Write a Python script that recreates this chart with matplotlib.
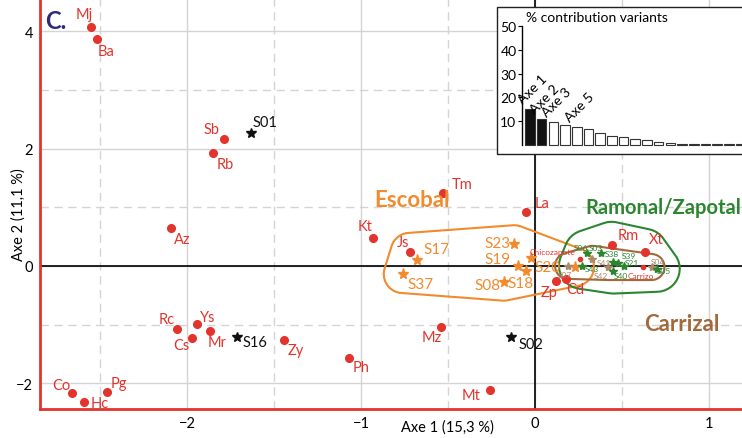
import numpy as np
import matplotlib
matplotlib.use("Agg")
import matplotlib.pyplot as plt
from matplotlib.patches import Polygon, Rectangle

plt.rcParams['font.family'] = ['Lato', 'DejaVu Sans']

# variants (red dots)
var_names = ['Mj', 'Ba', 'Sb', 'Rb', 'Az', 'Kt', 'Js', 'Tm', 'La', 'Rc', 'Ys', 'Cs',
             'Mr', 'Zy', 'Ph', 'Mz', 'Mt', 'Co', 'Hc', 'Pg', 'Rm', 'Xt', 'Zp', 'Cd']
var_x = [-2.55, -2.52, -1.79, -1.85, -2.09, -0.93, -0.72, -0.53, -0.05, -2.06, -1.94, -1.97,
         -1.87, -1.44, -1.07, -0.54, -0.26, -2.66, -2.59, -2.46, 0.44, 0.63, 0.12, 0.18]
var_y = [4.07, 3.87, 2.16, 1.93, 0.65, 0.48, 0.24, 1.24, 0.92, -1.07, -0.99, -1.23,
         -1.11, -1.26, -1.57, -1.04, -2.11, -2.16, -2.32, -2.15, 0.36, 0.24, -0.26, -0.22]

# small red labels inside the right cluster
place_names = ['Chicozapote', 'Carrizo']
place_x = [0.26, 0.62]
place_y = [0.12, -0.02]

# sites not in a group (black stars)
solo_names = ['S01', 'S16', 'S02']
solo_x = [-1.63, -1.71, -0.14]
solo_y = [2.27, -1.21, -1.21]

# Escobal sites
esc_names = ['S17', 'S37', 'S23', 'S19', 'S20', 'S18', 'S08', '']
esc_x = [-0.68, -0.76, -0.12, -0.10, -0.02, -0.05, -0.18, 0.23]
esc_y = [0.10, -0.14, 0.37, 0.00, 0.14, -0.09, -0.27, -0.02]

# Ramonal/Zapotal sites
ram_names = ['S06', 'S03', 'S38', 'S39', 'S21', 'S40', 'S43', 'S05']
ram_x = [0.30, 0.38, 0.45, 0.48, 0.51, 0.45, 0.27, 0.70]
ram_y = [0.22, 0.22, 0.06, 0.05, -0.01, -0.08, 0.00, -0.05]

# Carrizal sites
car_names = ['S41', 'S42', 'S04', 'S07']
car_x = [0.33, 0.42, 0.67, 0.19]
car_y = [0.12, -0.02, -0.02, 0.00]

# % contribution of each axis (inset)
contrib = [15.3, 11.1, 9.7, 8.6, 7.4, 6.6, 4.9, 3.6, 3.4, 2.5, 2.1, 1.4, 1.0,
           0.3, 0.3, 0.3, 0.3, 0.3, 0.3]
contrib_labels = {0: 'Axe 1', 1: 'Axe 2', 2: 'Axe 3', 4: 'Axe 5'}

RED = '#e2332c'
ORANGE = '#f28a2e'
GREEN = '#2c862f'
TAN = '#a98a6a'
BROWN = '#a26a3a'

# label offsets in pixels (dx, dy)
offs = {
    'Mj': (-7, 13), 'Ba': (10, -12), 'Sb': (-12, 10), 'Rb': (12, -11), 'Az': (11, -11),
    'Kt': (-8, 12), 'Js': (-7, 10), 'Tm': (19, 9), 'La': (16, 9), 'Rc': (-10, 10),
    'Ys': (10, 7), 'Cs': (-11, -7), 'Mr': (7, -11), 'Zy': (11, -10), 'Ph': (12, -9),
    'Mz': (-9, -10), 'Mt': (-19, -5), 'Co': (-11, 8), 'Hc': (15, -1), 'Pg': (12, 9),
    'Rm': (17, 10), 'Xt': (12, 13), 'Zp': (-7, -11), 'Cd': (9, -10),
    'Chicozapote': (-28, 7), 'Carrizo': (-2, -8),
    'S01': (14, 11), 'S16': (18, -5), 'S02': (20, -7),
    'S17': (20, 11), 'S37': (18, -10), 'S23': (-17, 1), 'S19': (-20, 7), 'S20': (16, -9),
    'S18': (-6, -12), 'S08': (-16, -3), '': (0, 0),
    'S06': (-6, 5), 'S03': (-5, 5), 'S38': (-1, 9), 'S39': (10, 7), 'S21': (8, 4),
    'S40': (8, -5), 'S43': (10, -3), 'S05': (7, -2),
    'S41': (11, -4), 'S42': (-7, -8), 'S04': (6, 6), 'S07': (-3, -9),
}


def convex_hull(p):
    p = sorted(map(tuple, p))

    def cross(o, a, b):
        return (a[0] - o[0]) * (b[1] - o[1]) - (a[1] - o[1]) * (b[0] - o[0])

    lower, upper = [], []
    for q in p:
        while len(lower) >= 2 and cross(lower[-2], lower[-1], q) <= 0:
            lower.pop()
        lower.append(q)
    for q in reversed(p):
        while len(upper) >= 2 and cross(upper[-2], upper[-1], q) <= 0:
            upper.pop()
        upper.append(q)
    return np.array(lower[:-1] + upper[:-1])


def rounded_hull(ax, xs, ys, pad):
    # hull of the points, padded by a circle of pad pixels
    pts = ax.transData.transform(np.column_stack([xs, ys]))
    t = np.linspace(0, 2 * np.pi, 36, endpoint=False)
    ring = np.column_stack([np.cos(t), np.sin(t)]) * pad
    cloud = (pts[:, None, :] + ring[None, :, :]).reshape(-1, 2)
    return ax.transData.inverted().transform(convex_hull(cloud))


fig = plt.figure(figsize=(7.42, 4.39), dpi=100)
ax = fig.add_axes([40 / 742, 29 / 439, 702 / 742, 410 / 439])
ax.set_xlim(-2.845, 1.19)
ax.set_ylim(-2.44, 4.55)

ax.set_xticks([-2, -1, 0, 1])
ax.set_xticks([-2.5, -1.5, -0.5, 0.5], minor=True)
ax.set_yticks([-2, 0, 2, 4])
ax.set_yticks([-1, 1, 3], minor=True)
ax.grid(which='major', color='#d4d4d4', lw=1)
ax.grid(which='minor', color='#d4d4d4', lw=1, ls=(0, (6, 4)))
ax.set_axisbelow(True)
ax.tick_params(which='both', length=0, labelsize=10.5, pad=5)
for s in ['top', 'right']:
    ax.spines[s].set_visible(False)
for s in ['left', 'bottom']:
    ax.spines[s].set_color(RED)
    ax.spines[s].set_linewidth(2)
ax.axhline(0, color='#111111', lw=1.3, zorder=1.5)
ax.axvline(0, color='#111111', lw=1.3, zorder=1.5)

ax.text(0.58, -0.043, 'Axe 1 (15,3 %)', transform=ax.transAxes, ha='center', va='center',
        fontsize=10.5, clip_on=False)
ax.text(-0.031, 0.476, 'Axe 2 (11,1 %)', transform=ax.transAxes, ha='center', va='center',
        rotation=90, fontsize=10.5, clip_on=False)
ax.text(0.023, 0.948, 'C.', transform=ax.transAxes, ha='center', va='center',
        fontsize=17, fontweight='bold', color='#2e2a78')

# group outlines
hull = rounded_hull(ax, esc_x + [var_x[6]], esc_y + [var_y[6]], 19)
ax.add_patch(Polygon(hull, closed=True, fill=False, ec=ORANGE, lw=1.5, zorder=2))
hull = rounded_hull(ax, ram_x + var_x[20:22], ram_y + var_y[20:22], 23)
ax.add_patch(Polygon(hull, closed=True, fill=False, ec=GREEN, lw=1.5, zorder=2))
hull = rounded_hull(ax, car_x + place_x[1:], car_y + place_y[1:], 13)
ax.add_patch(Polygon(hull, closed=True, fill=False, ec=BROWN, lw=1.5, zorder=2))


def draw(names, xs, ys, marker, ms, color, tcolor, fs):
    ax.plot(xs, ys, ls='none', marker=marker, ms=ms, color=color, mec=color, zorder=3)
    for n, x, y in zip(names, xs, ys):
        ax.annotate(n, (x, y), xytext=offs[n], textcoords='offset pixels',
                    ha='center', va='center', color=tcolor, fontsize=fs, zorder=4)


draw(var_names, var_x, var_y, 'o', 5.5, RED, RED, 10.5)
draw(place_names, place_x, place_y, 'o', 3, RED, RED, 6)
draw(solo_names, solo_x, solo_y, '*', 7, '#111111', '#111111', 10.5)
draw(esc_names, esc_x, esc_y, '*', 8, ORANGE, ORANGE, 11)
draw(car_names, car_x, car_y, '*', 6, TAN, TAN, 6)
draw(ram_names, ram_x, ram_y, '*', 6, GREEN, GREEN, 6)

ax.text(-0.707, 1.14, 'Escobal', color=ORANGE, fontsize=16, fontweight='bold',
        ha='center', va='center')
ax.text(0.736, 1.0, 'Ramonal/Zapotal', color=GREEN, fontsize=14.5, fontweight='bold',
        ha='center', va='center')
ax.text(0.845, -0.99, 'Carrizal', color=BROWN, fontsize=16, fontweight='bold',
        ha='center', va='center')

# inset: contribution of the axes
axi = fig.add_axes([497 / 742, 284 / 439, 250 / 742, 147 / 439])
axi.set_xlim(-1.82, -1.82 + 250 / 11.7)
axi.set_ylim(-3.79, 58.1)
pos = np.arange(1, len(contrib) + 1)
colors = ['#111111' if i < 2 else 'white' for i in range(len(contrib))]
axi.bar(pos, contrib, width=0.82, color=colors, edgecolor='#333333', lw=0.8, zorder=3)
for i, lab in contrib_labels.items():
    axi.text(pos[i] - 0.45, contrib[i] + 1.5, lab, rotation=45, rotation_mode='anchor',
             ha='left', va='bottom', fontsize=10, zorder=4)
axi.set_xticks([])
axi.set_yticks([10, 20, 30, 40, 50])
axi.tick_params(axis='y', length=3, width=0.8, labelsize=10, pad=1)
for s in ['top', 'right', 'bottom']:
    axi.spines[s].set_visible(False)
axi.spines['left'].set_position(('data', 0.32))
axi.spines['left'].set_bounds(0, 50)
axi.spines['left'].set_linewidth(1)
axi.add_patch(Rectangle((0, 0), 1, 1, transform=axi.transAxes, fill=False,
                        ec='#222222', lw=1, clip_on=False, zorder=5))
axi.text(0.114, 0.935, '% contribution variants', transform=axi.transAxes,
         ha='left', va='center', fontsize=10)

fig.savefig('out.png', dpi=100)
